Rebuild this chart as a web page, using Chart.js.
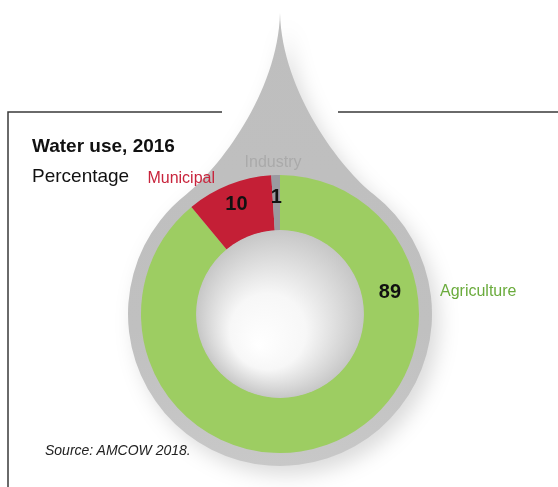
<!DOCTYPE html>
<html>
<head>
<meta charset="utf-8">
<script src="https://cdn.jsdelivr.net/npm/chart.js@4/dist/chart.umd.min.js"></script>
<style>
  html, body { margin: 0; padding: 0; background: #fff; }
  #wrap { position: relative; width: 558px; height: 487px; overflow: hidden; }
  canvas { position: absolute; left: 0; top: 0; }
  .txt { position: absolute; font-family: "Liberation Sans", Arial, sans-serif; white-space: nowrap; line-height: 1; color: #111; }
  #title { left: 32px; top: 136px; font-size: 19px; font-weight: bold; }
  #subtitle { left: 32px; top: 166px; font-size: 19px; }
  #source { left: 45px; top: 443px; font-size: 14px; font-style: italic; color: #222; }
</style>
</head>
<body>
<div id="wrap">
  <canvas id="c" width="558" height="487"></canvas>
  <div class="txt" id="title">Water use, 2016</div>
  <div class="txt" id="subtitle">Percentage</div>
  <div class="txt" id="source">Source: AMCOW 2018.</div>
</div>
<script>
const categories = ['Agriculture', 'Municipal', 'Industry'];
const values = [89, 10, 1];
const sliceColors = ['#9dcd62', '#c41f36', '#9a9aa0'];
const labelColors = ['#6aab3c', '#c8243c', '#aaaaaa'];

// label placement (fraction along arc, fraction across ring)
const valueLabelPlace = [
  { along: 0.244, across: 0.52 },
  { along: 0.5, across: 0.63 },
  { along: 0.5, across: 0.62 }
];

const dropPlugin = {
  id: 'drop',
  beforeDraw(chart) {
    const ctx = chart.ctx;
    const arc = chart.getDatasetMeta(0).data[0];
    const cx = arc.x, cy = arc.y, R = arc.outerRadius;
    const ringR = R + 13;
    // frame lines
    ctx.save();
    ctx.strokeStyle = '#3a3a3a';
    ctx.lineWidth = 1.5;
    ctx.beginPath();
    ctx.moveTo(8, 487);
    ctx.lineTo(8, 112);
    ctx.lineTo(222, 112);
    ctx.moveTo(338, 112);
    ctx.lineTo(558, 112);
    ctx.stroke();
    ctx.restore();

    // drop shape
    const tipY = cy - 301;
    const th = 38 * Math.PI / 180;
    const px = ringR * Math.sin(th), py = cy - ringR * Math.cos(th);
    const tx = -Math.cos(th), ty = -Math.sin(th);
    const path = new Path2D();
    path.moveTo(cx, tipY);
    path.bezierCurveTo(cx + 2, tipY + 80, cx + px + tx * 40, py + ty * 40, cx + px, py);
    path.arc(cx, cy, ringR, -Math.PI / 2 + th, -Math.PI / 2 - th + 2 * Math.PI, false);
    path.bezierCurveTo(cx - px - tx * 40, py + ty * 40, cx - 2, tipY + 80, cx, tipY);
    path.closePath();
    ctx.save();
    ctx.shadowColor = 'rgba(0,0,0,0.14)';
    ctx.shadowBlur = 20;
    ctx.shadowOffsetX = 7;
    ctx.shadowOffsetY = 9;
    const lg = ctx.createLinearGradient(0, tipY, 0, cy + ringR);
    lg.addColorStop(0, '#bebebe');
    lg.addColorStop(0.7, '#c0c0c0');
    lg.addColorStop(1, '#c8c8c8');
    ctx.fillStyle = lg;
    ctx.fill(path);
    ctx.restore();
  },
  afterDatasetsDraw(chart) {
    const ctx = chart.ctx;
    const meta = chart.getDatasetMeta(0);
    const arc0 = meta.data[0];
    const cx = arc0.x, cy = arc0.y, R = arc0.outerRadius, r = arc0.innerRadius;
    // hole gradient
    ctx.save();
    const g = ctx.createRadialGradient(cx - 22, cy + 32, 0, cx, cy, r + 1);
    g.addColorStop(0, '#ffffff');
    g.addColorStop(0.45, '#f7f7f7');
    g.addColorStop(1, '#c6c6c6');
    ctx.fillStyle = g;
    ctx.beginPath();
    ctx.arc(cx, cy, r + 0.5, 0, Math.PI * 2);
    ctx.fill();
    ctx.restore();

    // value labels
    ctx.save();
    ctx.fillStyle = '#111';
    ctx.font = 'bold 20px "Liberation Sans", Arial, sans-serif';
    ctx.textAlign = 'center';
    ctx.textBaseline = 'middle';
    meta.data.forEach((a, i) => {
      const p = valueLabelPlace[i];
      const ang = a.startAngle + (a.endAngle - a.startAngle) * p.along;
      const rr = a.innerRadius + (a.outerRadius - a.innerRadius) * p.across;
      ctx.fillText(String(values[i]), a.x + rr * Math.cos(ang), a.y + rr * Math.sin(ang) + 1);
    });
    ctx.restore();

    // category labels
    ctx.save();
    ctx.font = '16px "Liberation Sans", Arial, sans-serif';
    ctx.textBaseline = 'alphabetic';
    ctx.fillStyle = labelColors[0];
    ctx.textAlign = 'left';
    ctx.fillText(categories[0], cx + R + 21, cy - 18);
    ctx.fillStyle = labelColors[1];
    ctx.textAlign = 'right';
    ctx.fillText(categories[1], cx - 65, cy - 131);
    ctx.fillStyle = labelColors[2];
    ctx.textAlign = 'center';
    ctx.fillText(categories[2], cx - 7, cy - 147);
    ctx.restore();
  }
};

new Chart(document.getElementById('c'), {
  type: 'doughnut',
  data: {
    labels: categories,
    datasets: [{
      data: values,
      backgroundColor: sliceColors,
      borderWidth: 0,
      hoverOffset: 0
    }]
  },
  options: {
    responsive: false,
    animation: false,
    cutout: '60%',
    layout: { padding: { left: 141, right: 139, top: 175, bottom: 34 } },
    plugins: { legend: { display: false }, tooltip: { enabled: false } },
    events: []
  },
  plugins: [dropPlugin]
});
</script>
</body>
</html>
